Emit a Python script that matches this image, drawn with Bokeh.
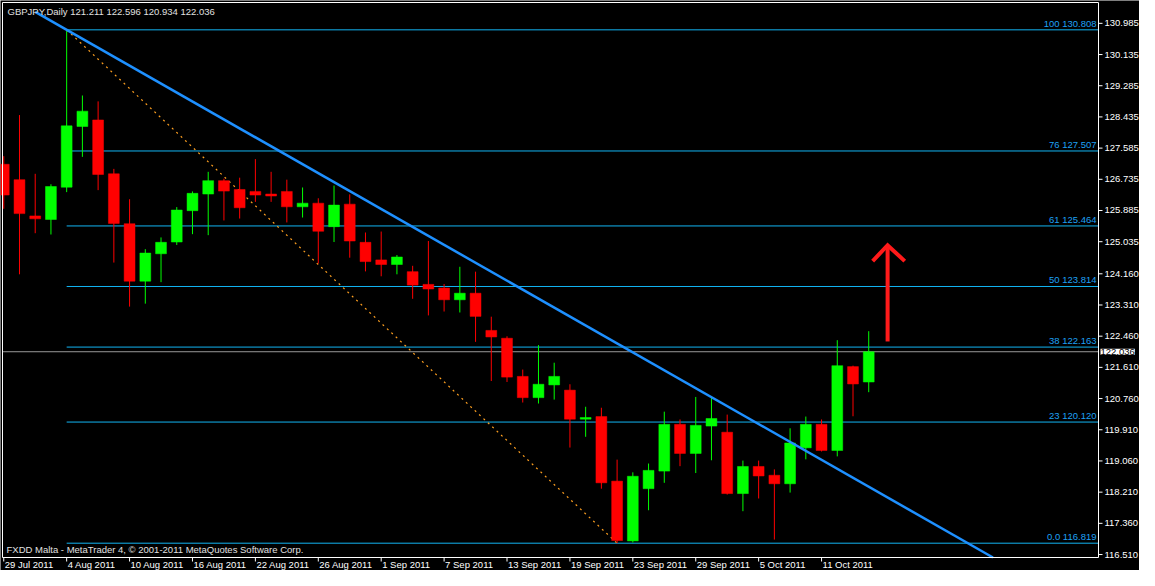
import math
from bokeh.plotting import figure
from bokeh.models import Range1d, Label, ColumnDataSource
from bokeh.core.properties import value
from bokeh.embed import file_html
from bokeh.resources import INLINE

# ---------------- data ----------------
header_text = "GBPJPY,Daily  121.211 122.596 120.934 122.036"
footer_text = "FXDD Malta - MetaTrader 4, \u00a9 2001-2011 MetaQuotes Software Corp."

opens = [127.144, 126.725, 125.738, 125.640, 126.520, 128.174, 128.352, 126.885, 125.525, 123.959,
         124.706, 125.026, 125.880, 126.333, 126.699, 126.458, 126.405, 126.333, 126.405, 125.986,
         126.085, 125.445, 126.058, 125.018, 124.538, 124.413, 124.218, 123.871, 123.772, 123.452,
         123.631, 122.617, 122.404, 121.364, 120.785, 121.132, 120.990, 120.198, 120.270, 118.510,
         116.880, 118.304, 118.784, 120.057, 119.264, 120.011, 119.843, 118.171, 118.910, 118.670,
         118.438, 119.417, 120.057, 119.345, 121.631, 121.211]
highs = [127.365, 128.486, 126.885, 126.600, 130.808, 129.019, 128.859, 127.019, 126.192, 124.831,
         125.151, 125.978, 126.405, 126.939, 126.752, 126.779, 127.285, 126.939, 126.725, 126.512,
         126.218, 126.565, 126.325, 125.285, 125.311, 124.671, 124.378, 125.053, 123.880, 124.351,
         124.218, 122.991, 122.457, 121.550, 122.217, 121.737, 121.150, 120.537, 120.510, 119.096,
         118.750, 118.990, 120.403, 120.190, 120.804, 120.830, 120.323, 119.070, 119.070, 118.830,
         119.950, 120.270, 120.190, 122.351, 121.657, 122.596]
lows = [125.933, 124.146, 125.266, 125.231, 126.386, 127.347, 126.440, 124.466, 123.266, 123.346,
        123.932, 124.946, 125.240, 125.213, 125.613, 125.666, 126.120, 126.120, 125.560, 125.693,
        124.439, 125.026, 124.599, 124.226, 124.092, 124.146, 123.479, 123.026, 123.132, 123.106,
        122.305, 121.238, 121.212, 120.652, 120.625, 120.732, 119.425, 119.718, 118.304, 116.819,
        116.837, 117.717, 118.464, 118.918, 118.731, 119.078, 118.144, 117.691, 118.037, 116.917,
        118.198, 119.104, 119.318, 119.185, 120.278, 120.934]
closes = [126.306, 125.800, 125.658, 126.539, 128.192, 128.592, 126.867, 125.533, 123.959, 124.725,
          125.018, 125.898, 126.352, 126.699, 126.413, 125.960, 126.306, 126.280, 125.986, 126.085,
          125.319, 126.032, 125.053, 124.493, 124.413, 124.618, 123.852, 123.746, 123.452, 123.631,
          122.999, 122.439, 121.345, 120.785, 121.150, 121.364, 120.198, 120.244, 118.464, 116.891,
          118.643, 118.803, 120.057, 119.264, 120.030, 120.217, 118.171, 118.910, 118.651, 118.438,
          119.550, 120.057, 119.345, 121.657, 121.158, 122.036]

date_tick_bars = [0, 4, 8, 12, 16, 20, 24, 28, 32, 36, 40, 44, 48, 52]
date_tick_labels = ["29 Jul 2011", "4 Aug 2011", "10 Aug 2011", "16 Aug 2011", "22 Aug 2011",
                    "26 Aug 2011", "1 Sep 2011", "7 Sep 2011", "13 Sep 2011", "19 Sep 2011",
                    "23 Sep 2011", "29 Sep 2011", "5 Oct 2011", "11 Oct 2011"]
price_ticks = [130.985, 130.135, 129.285, 128.435, 127.585, 126.735, 125.885, 125.035, 124.160,
               123.310, 122.460, 121.610, 120.760, 119.910, 119.060, 118.210, 117.360, 116.510]

fib_names = ["0.0", "23", "38", "50", "61", "76", "100"]
fib_prices = [116.819, 120.120, 122.163, 123.814, 125.464, 127.507, 130.808]
fib_start_bar = 4

fib_diag_bars = [4, 39]
fib_diag_prices = [130.808, 116.819]

trend_bars = [2, 62.9]
trend_prices = [131.296, 116.429]

arrow_shaft_bars = [56.2, 56.2]
arrow_shaft_prices = [122.316, 124.938]
arrow_head_bars = [55.25, 56.2, 57.29]
arrow_head_prices = [124.506, 124.938, 124.506]

current_price = 122.036

# ---------------- layout ----------------
W, H = 1139, 570
FONT = "Liberation Sans"
FS = "9.5px"
# chart window (bar index / price) and where its border sits on the canvas (px)
BX0, BX1 = -0.08, 69.61
BY0, BY1 = 116.429, 131.553
PX_LEFT, PX_RIGHT = 2, 1098
PY_TOP, PY_BOTTOM = 2, 557

sx = (PX_RIGHT - PX_LEFT) / (BX1 - BX0)
sy = (PY_BOTTOM - PY_TOP) / (BY1 - BY0)
x_start = BX0 - PX_LEFT / sx
x_end = BX0 + (W - PX_LEFT) / sx
y_end = BY1 + PY_TOP / sy
y_start = BY0 - (H - PY_BOTTOM) / sy

p = figure(width=W, height=H, output_backend="svg", toolbar_location=None,
           x_range=Range1d(x_start, x_end), y_range=Range1d(y_start, y_end),
           x_axis_location=None, y_axis_location=None,
           min_border=0, min_border_left=0, min_border_right=0,
           min_border_top=0, min_border_bottom=0)
p.background_fill_color = "black"
p.border_fill_color = "black"
p.outline_line_color = None
p.grid.visible = False

# fib levels
n_fib = len(fib_prices)
fib_src = ColumnDataSource(dict(x0=[fib_start_bar] * n_fib, x1=[BX1] * n_fib, y=fib_prices))
p.segment(x0="x0", y0="y", x1="x1", y1="y", source=fib_src,
          line_color="#12B4F2", line_width=1)

# fib diagonal
p.line(fib_diag_bars, fib_diag_prices, line_color="#FFA020", line_width=1.2, line_dash="2 4")

# current price line
p.segment(x0=[BX0], y0=[current_price], x1=[BX1], y1=[current_price],
          line_color="#9A9A9A", line_width=1)

# candles
idx = list(range(len(opens)))
colors = ["#00FF00" if c >= o else "#FF0000" for o, c in zip(opens, closes)]
src = ColumnDataSource(dict(
    x=idx, h=highs, l=lows,
    top=[max(o, c) for o, c in zip(opens, closes)],
    bottom=[min(o, c) for o, c in zip(opens, closes)],
    color=colors))
p.segment(x0="x", y0="l", x1="x", y1="h", line_color="color", line_width=1, source=src)
p.vbar(x="x", width=0.69, top="top", bottom="bottom", fill_color="color",
       line_color="color", line_width=0.5, source=src)

# trend line
p.line(trend_bars, trend_prices, line_color="#1E90FF", line_width=2.5)

# red arrow
p.line(arrow_shaft_bars, arrow_shaft_prices, line_color="#FF1A1A", line_width=4)
p.line(arrow_head_bars, arrow_head_prices, line_color="#FF1A1A", line_width=4,
       line_join="miter")

# chart border (white frame)
p.line([BX0, BX1, BX1, BX0, BX0], [BY1, BY1, BY0, BY0, BY1], line_color="white", line_width=1)

# price scale ticks and labels
p.ray(x=[BX1] * len(price_ticks), y=price_ticks, length=4, length_units="screen",
      angle=0, line_color="white", line_width=1)
for t in price_ticks:
    p.add_layout(Label(x=BX1, y=t, x_offset=6, text=f"{t:.3f}",
                       text_baseline="middle", text_align="left", text_color="white",
                       text_font=FONT, text_font_size=FS))

# time scale ticks and labels
p.ray(x=date_tick_bars, y=[BY0] * len(date_tick_bars), length=4, length_units="screen",
      angle=-math.pi / 2, line_color="white", line_width=1)
for b, lab in zip(date_tick_bars, date_tick_labels):
    p.add_layout(Label(x=b, y=BY0, x_offset=1, y_offset=-7, text=lab,
                       text_baseline="middle", text_align="left", text_color="white",
                       text_font=FONT, text_font_size=FS))

# fib labels
for n, v in zip(fib_names, fib_prices):
    p.add_layout(Label(x=BX1, y=v, x_offset=-2, y_offset=1, text=f"{n} {v:.3f}",
                       text_baseline="bottom", text_align="right", text_color="#1EA0F5",
                       text_font=FONT, text_font_size=FS))

# current price box
p.add_layout(Label(x=BX1, y=current_price, x_offset=2, text=f"{current_price:.3f}",
                   text_baseline="middle", text_align="left", text_color="black",
                   background_fill_color="white", text_font=FONT, text_font_size=FS))

# header and footer
p.add_layout(Label(x=BX0, y=BY1, x_offset=5, y_offset=-9, text=header_text,
                   text_baseline="middle", text_color="#E0E0E0",
                   text_font=FONT, text_font_size=FS))
p.add_layout(Label(x=BX0, y=BY0, x_offset=4, y_offset=8, text=footer_text,
                   text_baseline="middle", text_color="#E0E0E0",
                   text_font=FONT, text_font_size=FS))

open("out.html", "w").write(file_html(p, INLINE))
